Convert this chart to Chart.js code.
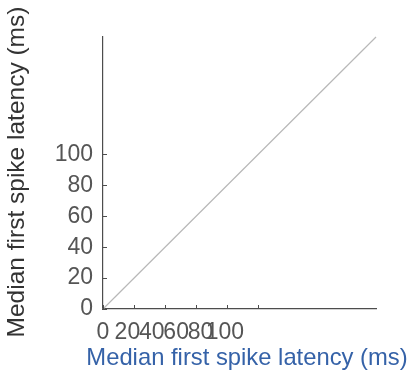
<!DOCTYPE html>
<html>
<head>
<meta charset="utf-8">
<script src="https://cdn.jsdelivr.net/npm/chart.js@4.4.1/dist/chart.umd.min.js"></script>
<style>
  html, body { margin: 0; padding: 0; background: #fff; }
  #wrap { width: 412px; height: 383px; }
</style>
</head>
<body>
<div id="wrap"><canvas id="grafico" width="412" height="383"></canvas></div>
<script>
// dados do grafico
const axisMax = 176;
const tickVals = [0, 20, 40, 60, 80, 100];
const lineX = [0, 176];
const lineY = [0, 176];
const axisTitle = 'Median first spike latency (ms)';

const fontFam = "'Liberation Sans', Arial, sans-serif";
const axisColor = '#4d4d4d';

// marcas dos ticks para dentro + titulos dos eixos
const extrasPlugin = {
  id: 'extras',
  afterDraw(chart) {
    const ctx = chart.ctx;
    const xs = chart.scales.x;
    const ys = chart.scales.y;
    const area = chart.chartArea;
    ctx.save();
    ctx.strokeStyle = axisColor;
    ctx.lineWidth = 1;
    tickVals.forEach((v) => {
      const px = Math.round(xs.getPixelForValue(v)) + 0.5;
      ctx.beginPath();
      ctx.moveTo(px, area.bottom);
      ctx.lineTo(px, area.bottom - 4);
      ctx.stroke();
      const py = Math.round(ys.getPixelForValue(v)) + 0.5;
      ctx.beginPath();
      ctx.moveTo(area.left, py);
      ctx.lineTo(area.left + 4, py);
      ctx.stroke();
    });

    ctx.textAlign = 'center';
    ctx.textBaseline = 'middle';
    // titulo eixo x
    ctx.font = '23.8px ' + fontFam;
    ctx.fillStyle = '#3562a8';
    ctx.fillText(axisTitle, 247, 358);
    // titulo eixo y
    ctx.font = '24.5px ' + fontFam;
    ctx.translate(17, 172);
    ctx.rotate(-Math.PI / 2);
    ctx.fillStyle = '#333333';
    ctx.fillText(axisTitle, 0, 0);
    ctx.restore();
  },
};

new Chart(document.getElementById('grafico').getContext('2d'), {
  type: 'scatter',
  data: {
    datasets: [
      {
        data: lineX.map((x, i) => ({ x: x, y: lineY[i] })),
        showLine: true,
        borderColor: '#b8b8b8',
        borderWidth: 1.2,
        pointRadius: 0,
        clip: false,
      },
    ],
  },
  options: {
    responsive: false,
    animation: false,
    events: [],
    layout: { padding: { top: 37, right: 36, left: 0, bottom: 0 } },
    plugins: {
      legend: { display: false },
      tooltip: { enabled: false },
    },
    scales: {
      x: {
        type: 'linear',
        position: 'bottom',
        min: 0,
        max: axisMax,
        grid: { display: false },
        border: { display: true, color: axisColor, width: 1.2 },
        ticks: { display: false },
        afterFit: (scale) => { scale.height = 0; },
      },
      // eixo so para os rotulos (no original eles ficam mais juntos)
      xLab: {
        type: 'linear',
        position: 'bottom',
        min: 0,
        max: 224,
        grid: { display: false },
        border: { display: false },
        afterBuildTicks: (scale) => { scale.ticks = tickVals.map((v) => ({ value: v })); },
        ticks: {
          color: '#555555',
          font: { size: 23, family: fontFam },
          padding: 2,
          labelOffset: 0,
          maxRotation: 0,
          autoSkip: false,
        },
        afterFit: (scale) => { scale.height = 74; },
      },
      y: {
        type: 'linear',
        min: 0,
        max: axisMax,
        grid: { display: false },
        border: { display: true, color: axisColor, width: 1.2 },
        afterBuildTicks: (scale) => { scale.ticks = tickVals.map((v) => ({ value: v })); },
        ticks: {
          color: '#555555',
          font: { size: 23, family: fontFam },
          padding: 2,
          autoSkip: false,
        },
        afterFit: (scale) => { scale.width = 103; },
      },
    },
  },
  plugins: [extrasPlugin],
});
</script>
</body>
</html>
